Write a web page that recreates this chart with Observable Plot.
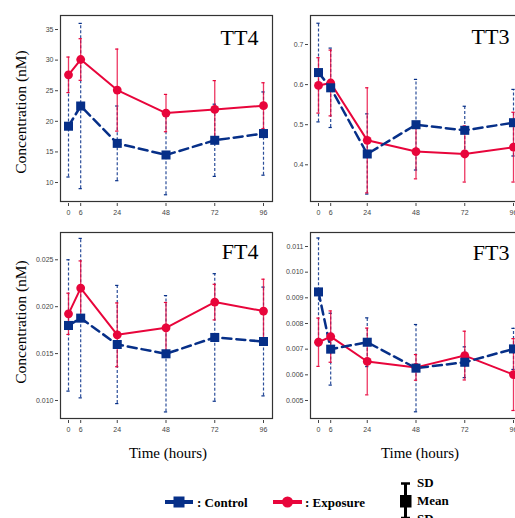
<!DOCTYPE html>
<html>
<head>
<meta charset="utf-8">
<script src="https://cdn.jsdelivr.net/npm/d3@7"></script>
<script src="https://cdn.jsdelivr.net/npm/@observablehq/plot@0.6"></script>
<style>
  html, body { margin: 0; padding: 0; background: #fff; overflow: hidden; }
  #wrap { position: relative; width: 515px; height: 518px; overflow: hidden; background: #fff; }
  #wrap svg { position: absolute; }
</style>
</head>
<body>
<div id="wrap"></div>
<script>
const hours = [0, 6, 24, 48, 72, 96];

const tt4ControlMean = [19.2, 22.5, 16.4, 14.5, 16.9, 18.0];
const tt4ControlSD   = [8.3, 13.5, 6.1, 6.5, 5.9, 6.8];
const tt4ExposureMean = [27.6, 30.1, 25.1, 21.35, 21.95, 22.55];
const tt4ExposureSD   = [2.9, 3.4, 6.7, 3.05, 4.7, 3.75];

const tt3ControlMean = [0.630, 0.592, 0.427, 0.500, 0.486, 0.505];
const tt3ControlSD   = [0.123, 0.099, 0.100, 0.113, 0.060, 0.083];
const tt3ExposureMean = [0.598, 0.604, 0.461, 0.433, 0.427, 0.444];
const tt3ExposureSD   = [0.069, 0.082, 0.131, 0.068, 0.070, 0.087];

const ft4ControlMean = [0.0180, 0.01878, 0.01597, 0.01498, 0.01672, 0.01629];
const ft4ControlSD   = [0.0070, 0.0085, 0.0063, 0.0062, 0.0068, 0.0058];
const ft4ExposureMean = [0.01924, 0.02198, 0.0170, 0.01775, 0.02049, 0.01953];
const ft4ExposureSD   = [0.0022, 0.0029, 0.0034, 0.0027, 0.0019, 0.0034];

const ft3ControlMean = [0.00923, 0.0070, 0.00727, 0.00626, 0.00649, 0.00701];
const ft3ControlSD   = [0.0021, 0.0014, 0.00095, 0.0017, 0.0006, 0.0008];
const ft3ExposureMean = [0.00727, 0.00749, 0.00652, 0.00629, 0.00675, 0.00601];
const ft3ExposureSD   = [0.00094, 0.0010, 0.0013, 0.0005, 0.00095, 0.0014];

const tt4Ticks = [10, 15, 20, 25, 30, 35];
const tt3Ticks = [0.4, 0.5, 0.6, 0.7];
const ft4Ticks = [0.010, 0.015, 0.020, 0.025];
const ft3Ticks = [0.005, 0.006, 0.007, 0.008, 0.009, 0.010, 0.011];

const yLabel = "Concentration (nM)";
const xLabel = "Time (hours)";
const legendLabels = [": Control", ": Exposure"];
const sdLabels = ["SD", "Mean", "SD"];

const BLUE = "#062f88";
const RED = "#e8053b";

function series(means, sds) {
  return hours.map((t, i) => ({t, m: means[i], lo: means[i] - sds[i], hi: means[i] + sds[i]}));
}

function panel(o) {
  const ctrl = series(o.cm, o.cs);
  const expo = series(o.em, o.es);
  const cap = 0.8;
  return Plot.plot({
    width: 280, height: 221,
    marginLeft: 60, marginRight: 8, marginTop: 15, marginBottom: 20,
    x: {domain: [0, 96], insetLeft: 8, insetRight: 9},
    y: {domain: o.domain},
    style: {fontFamily: "'Liberation Sans', Arial, sans-serif", fontSize: "7px", color: "#444", background: "transparent", overflow: "visible"},
    marks: [
      Plot.axisX({ticks: hours, tickSize: 3, dy: 2, tickPadding: 4, label: null, tickFormat: d => String(d)}),
      Plot.axisY({ticks: o.ticks, tickFormat: o.fmt, tickSize: 3, dx: -2, tickPadding: 2, label: null}),
      // control error bars
      Plot.ruleX(ctrl, {x: "t", y1: "lo", y2: "hi", stroke: BLUE, strokeWidth: 1.2, strokeDasharray: "3,2", strokeOpacity: 0.85}),
      Plot.ruleY(ctrl, {y: "lo", x1: d => d.t - cap, x2: d => d.t + cap, stroke: BLUE, strokeWidth: 1.2}),
      Plot.ruleY(ctrl, {y: "hi", x1: d => d.t - cap, x2: d => d.t + cap, stroke: BLUE, strokeWidth: 1.2}),
      // exposure error bars
      Plot.ruleX(expo, {x: "t", y1: "lo", y2: "hi", stroke: RED, strokeWidth: 1.3, strokeOpacity: 0.8}),
      Plot.ruleY(expo, {y: "lo", x1: d => d.t - cap, x2: d => d.t + cap, stroke: RED, strokeWidth: 1.2}),
      Plot.ruleY(expo, {y: "hi", x1: d => d.t - cap, x2: d => d.t + cap, stroke: RED, strokeWidth: 1.2}),
      // lines
      Plot.line(expo, {x: "t", y: "m", stroke: RED, strokeWidth: 2}),
      Plot.line(ctrl, {x: "t", y: "m", stroke: BLUE, strokeWidth: 2.5, strokeDasharray: "9,5"}),
      Plot.dot(expo, {x: "t", y: "m", r: 4.4, fill: RED, stroke: "none"}),
      Plot.dot(ctrl, {x: "t", y: "m", r: 5.1, symbol: "square", fill: BLUE, stroke: "none"}),
      Plot.frame({stroke: "#333", strokeWidth: 1.2}),
      Plot.text([o.title], {frameAnchor: "top-right", dx: o.tdx, dy: o.tdy, text: d => d, fontSize: 22, fontFamily: "'Liberation Serif', 'Times New Roman', serif", fill: "#000", textAnchor: "end", lineAnchor: "middle"})
    ]
  });
}

const wrap = document.getElementById("wrap");
function place(svg, left, top) {
  svg.style.left = left + "px";
  svg.style.top = top + "px";
  wrap.appendChild(svg);
}

place(panel({title: "TT4", cm: tt4ControlMean, cs: tt4ControlSD, em: tt4ExposureMean, es: tt4ExposureSD,
  domain: [6.9, 37.29], ticks: tt4Ticks, fmt: d => String(d), tdx: -14, tdy: 22.5}), 0, 0);
place(panel({title: "TT3", cm: tt3ControlMean, cs: tt3ControlSD, em: tt3ExposureMean, es: tt3ExposureSD,
  domain: [0.3085, 0.7723], ticks: tt3Ticks, fmt: d3.format(".1f"), tdx: -13, tdy: 21}), 250, 0);
place(panel({title: "FT4", cm: ft4ControlMean, cs: ft4ControlSD, em: ft4ExposureMean, es: ft4ExposureSD,
  domain: [0.00808, 0.02791], ticks: ft4Ticks, fmt: d3.format(".3f"), tdx: -14, tdy: 19.5}), 0, 217);
place(panel({title: "FT3", cm: ft3ControlMean, cs: ft3ControlSD, em: ft3ExposureMean, es: ft3ExposureSD,
  domain: [0.0042987, 0.011545], ticks: ft3Ticks, fmt: d3.format(".3f"), tdx: -13, tdy: 20}), 250, 217);

// overlay for axis titles and legend
const ov = d3.create("svg").attr("width", 515).attr("height", 518)
  .style("left", "0px").style("top", "0px")
  .attr("font-family", "'Liberation Serif', 'Times New Roman', serif");

[112, 322].forEach(cy => {
  ov.append("text").attr("transform", `translate(20,${cy}) rotate(-90)`)
    .attr("text-anchor", "middle").attr("dominant-baseline", "central")
    .attr("font-size", 15.5).attr("fill", "#000").text(yLabel);
});
[168, 420].forEach(cx => {
  ov.append("text").attr("x", cx).attr("y", 458).attr("text-anchor", "middle")
    .attr("font-size", 15).attr("fill", "#000").text(xLabel);
});

// legend: control
const ly = 502;
ov.append("line").attr("x1", 165).attr("x2", 193).attr("y1", ly).attr("y2", ly).attr("stroke", BLUE).attr("stroke-width", 4);
ov.append("rect").attr("x", 173.5).attr("y", ly - 5.5).attr("width", 11).attr("height", 11).attr("fill", BLUE);
ov.append("text").attr("x", 197).attr("y", ly + 4.5).attr("font-size", 13).attr("font-weight", "bold").attr("fill", "#000").text(legendLabels[0]);
// legend: exposure
ov.append("line").attr("x1", 273).attr("x2", 302).attr("y1", ly).attr("y2", ly).attr("stroke", RED).attr("stroke-width", 4);
ov.append("circle").attr("cx", 287.5).attr("cy", ly).attr("r", 5.5).attr("fill", RED);
ov.append("text").attr("x", 305).attr("y", ly + 4.5).attr("font-size", 13).attr("font-weight", "bold").attr("fill", "#000").text(legendLabels[1]);
// SD / mean icon
ov.append("line").attr("x1", 405.5).attr("x2", 405.5).attr("y1", 483).attr("y2", 520).attr("stroke", "#000").attr("stroke-width", 3);
ov.append("line").attr("x1", 401).attr("x2", 410).attr("y1", 483.5).attr("y2", 483.5).attr("stroke", "#000").attr("stroke-width", 2.5);
ov.append("line").attr("x1", 401).attr("x2", 410).attr("y1", 518).attr("y2", 518).attr("stroke", "#000").attr("stroke-width", 2.5);
ov.append("rect").attr("x", 400).attr("y", 495).attr("width", 11.5).attr("height", 12.5).attr("fill", "#000");
[487, 505, 523].forEach((y, i) => {
  ov.append("text").attr("x", 417).attr("y", y).attr("font-size", 13).attr("font-weight", "bold").attr("fill", "#000").text(sdLabels[i]);
});

wrap.appendChild(ov.node());
</script>
</body>
</html>
